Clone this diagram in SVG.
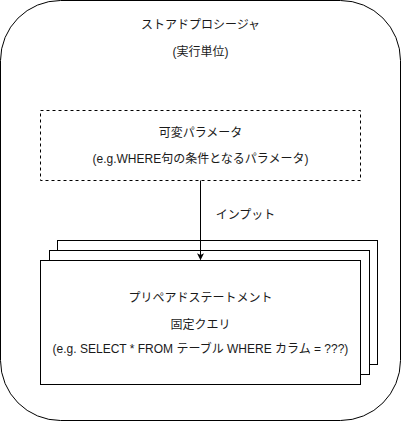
<svg xmlns="http://www.w3.org/2000/svg" width="401" height="421" viewBox="0 0 401 421">
<defs>
<style>
.t{font-family:"Liberation Sans","Noto Sans CJK JP",sans-serif;font-size:12px;fill:#1a1a1a;text-anchor:middle;dominant-baseline:central}
.box{fill:#fff;stroke:#000;stroke-width:1}
</style>
<marker id="arr" viewBox="0 0 10 10" refX="9" refY="5" markerWidth="7" markerHeight="7" markerUnits="userSpaceOnUse" orient="auto">
<path d="M0,0 L10,5 L0,10 L2.5,5 Z" fill="#000"/>
</marker>
</defs>
<g id="procedure">
<rect x="0.5" y="0.5" width="400" height="420" rx="60" ry="60" class="box"/>
<text class="t" x="200.5" y="25">ストアドプロシージャ</text>
<text class="t" x="200.5" y="52">(実行単位)</text>
</g>
<g id="params">
<rect x="40.5" y="110.5" width="320" height="70" fill="#fff" stroke="#000" stroke-dasharray="3,3"/>
<text class="t" x="200.5" y="133">可変パラメータ</text>
<text class="t" x="200.5" y="159">(e.g.WHERE句の条件となるパラメータ)</text>
</g>
<g id="prepared">
<rect x="57.5" y="240.5" width="320" height="124" class="box"/>
<rect x="49.5" y="250.5" width="320" height="124" class="box"/>
<rect x="40.5" y="260.5" width="320" height="124" class="box"/>
<text class="t" x="200.5" y="298">プリペアドステートメント</text>
<text class="t" x="200.5" y="325">固定クエリ</text>
<text class="t" x="200.5" y="349">(e.g. SELECT * FROM テーブル WHERE カラム = ???)</text>
</g>
<g id="connectors">
<line x1="200.5" y1="180.5" x2="200.5" y2="259.5" stroke="#000" marker-end="url(#arr)"/>
<text class="t" x="245.5" y="215">インプット</text>
</g>
</svg>
